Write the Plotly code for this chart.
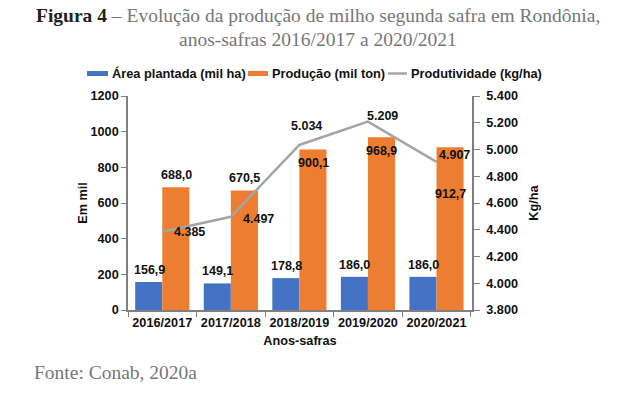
import plotly.graph_objects as go

categorias = ["2016/2017", "2017/2018", "2018/2019", "2019/2020", "2020/2021"]
area_plantada = [156.9, 149.1, 178.8, 186.0, 186.0]
producao = [688.0, 670.5, 900.1, 968.9, 912.7]
produtividade = [4385, 4497, 5034, 5209, 4907]
series_names = ["Área plantada (mil ha)", "Produção (mil ton)", "Produtividade (kg/ha)"]

BLUE = "#4472C4"
ORANGE = "#ED7D31"
GRAY = "#A5A5A5"
SANS = "Liberation Sans, Arial"
SERIF = "Liberation Serif, serif"
LBL = dict(family=SANS, size=12.5, color="#111111", weight="bold")

# plot area geometry (pixels)
W, H = 629, 398
L, R, T, B = 128, 157, 96, 88
PW, PH = W - L - R, H - T - B
def px(X):
    return (X - L) / PW
def py(Y):
    return (H - B - Y) / PH

def br_dec(v):
    return f"{v:.1f}".replace(".", ",")

def br_int(v):
    return f"{v:,.0f}".replace(",", ".")

fig = go.Figure()
fig.add_trace(go.Bar(x=categorias, y=area_plantada, name=series_names[0],
                     marker=dict(color=BLUE, line=dict(width=0))))
fig.add_trace(go.Bar(x=categorias, y=producao, name=series_names[1],
                     marker=dict(color=ORANGE, line=dict(width=0))))
fig.add_trace(go.Scatter(x=categorias, y=produtividade, name=series_names[2],
                         mode="lines", line=dict(color=GRAY, width=2.5), yaxis="y2"))

ann = []
for c, v in zip(categorias, area_plantada):
    ann.append(dict(x=c, y=v, xref="x", yref="y", text=br_dec(v),
                    showarrow=False, xshift=-13, yshift=3, yanchor="bottom", font=LBL))
orange_shift = [3, 3, -5, -5, -38]
orange_anchor = ["bottom", "bottom", "top", "top", "top"]
for c, v, s, a in zip(categorias, producao, orange_shift, orange_anchor):
    ann.append(dict(x=c, y=v, xref="x", yref="y", text=br_dec(v),
                    showarrow=False, xshift=14, yshift=s, yanchor=a, font=LBL))
line_xs = [27, 28, 7, 15, 18]
line_ys = [0, -2, 19, 6, 7]
for c, v, xs, ys in zip(categorias, produtividade, line_xs, line_ys):
    ann.append(dict(x=c, y=v, xref="x", yref="y2", text=br_int(v),
                    showarrow=False, xshift=xs, yshift=ys, font=LBL))

# title
ann.append(dict(xref="paper", yref="paper", x=px(318), y=py(16), xanchor="center", yanchor="middle",
                text="<b><span style='color:#222222'>Figura 4</span></b> – Evolução da produção de milho segunda safra em Rondônia,",
                showarrow=False, font=dict(family=SERIF, size=19.5, color="#777777")))
ann.append(dict(xref="paper", yref="paper", x=px(318), y=py(40), xanchor="center", yanchor="middle",
                text="anos-safras 2016/2017 a 2020/2021",
                showarrow=False, font=dict(family=SERIF, size=19.5, color="#777777")))
ann.append(dict(xref="paper", yref="paper", x=px(32), y=py(372), xanchor="left", yanchor="middle",
                text="Fonte: Conab, 2020a", showarrow=False,
                font=dict(family=SERIF, size=19.5, color="#777777")))

# manual legend
shapes = []
LEG_Y = 73.5
leg_font = dict(family=SANS, size=12.8, color="#111111", weight="bold")
leg_items = [(87, 108, BLUE, "rect"), (248, 268, ORANGE, "rect"), (388, 407, GRAY, "line")]
for (x0, x1, col, kind), name in zip(leg_items, series_names):
    if kind == "rect":
        shapes.append(dict(type="rect", xref="paper", yref="paper", x0=px(x0), x1=px(x1),
                           y0=py(LEG_Y + 2.5), y1=py(LEG_Y - 2.5), fillcolor=col, line=dict(width=0)))
    else:
        shapes.append(dict(type="line", xref="paper", yref="paper", x0=px(x0), x1=px(x1),
                           y0=py(LEG_Y), y1=py(LEG_Y), line=dict(color=col, width=2.5)))
    ann.append(dict(xref="paper", yref="paper", x=px(x1 + 2), y=py(LEG_Y), xanchor="left",
                    yanchor="middle", text=name, showarrow=False, font=leg_font))

axfont = dict(family=SANS, size=12.7, color="#111111", weight="bold")

fig.update_layout(
    width=W, height=H,
    paper_bgcolor="white", plot_bgcolor="white",
    margin=dict(l=L, r=R, t=T, b=B, autoexpand=False),
    separators=",.",
    showlegend=False,
    hovermode=False,
    barmode="group", bargap=0.21, bargroupgap=0,
    xaxis=dict(type="category", showline=True, linecolor="#7f7f7f", linewidth=1.5,
               ticks="outside", tickson="boundaries", ticklen=5, tickcolor="#7f7f7f",
               tickfont=axfont, tickangle=0,
               title=dict(text="Anos-safras", standoff=7, font=axfont)),
    yaxis=dict(range=[0, 1200], dtick=200, tickformat="d", showgrid=False, zeroline=False,
               showline=True, linecolor="#7f7f7f", linewidth=1.5, ticks="outside", ticklen=5,
               tickcolor="#7f7f7f", tickfont=axfont,
               title=dict(text="Em mil", standoff=0, font=axfont)),
    yaxis2=dict(range=[3800, 5400], dtick=200, tickformat=",.0f", overlaying="y", side="right",
                showgrid=False, zeroline=False, showline=True, linecolor="#7f7f7f", linewidth=1.5,
                ticks="outside", ticklen=6, tickcolor="#7f7f7f", tickfont=axfont,
                ticklabelstandoff=4,
                title=dict(text="Kg/ha", standoff=12, font=axfont)),
    annotations=ann,
    shapes=shapes,
)

fig.write_html("out.html", config={"displayModeBar": False},
               post_script="document.body.style.margin='0';")
